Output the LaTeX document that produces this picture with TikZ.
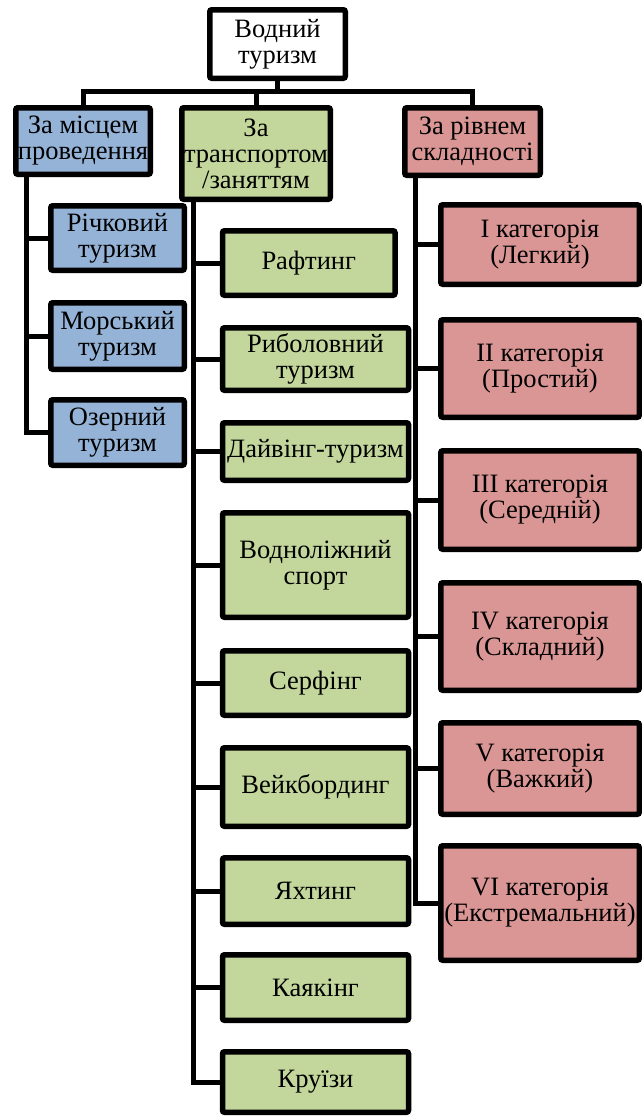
\documentclass[tikz,border=0pt]{standalone}
\usepackage{fontspec}
\setmainfont{Liberation Serif}
\newfontfamily\boxfont{Liberation Serif}
\definecolor{placeblue}{RGB}{149,179,215}
\definecolor{transgreen}{RGB}{195,214,155}
\definecolor{levelred}{RGB}{217,150,148}
\tikzset{
  box/.style={draw, line width=5.5pt, rounded corners=2pt, align=center, inner sep=0pt,
    font=\boxfont\fontsize{26.5}{26}\selectfont},
  placebox/.style={box, fill=placeblue, minimum width=133.5pt},
  transbox/.style={box, fill=transgreen, anchor=west, minimum width=186pt},
  levelbox/.style={box, fill=levelred, minimum width=198.5pt},
  link/.style={draw, line width=5pt}
}
\usetikzlibrary{calc}

\begin{document}
\begin{tikzpicture}[x=1pt,y=-1pt]
  \useasboundingbox (0,0) rectangle (642,1117);

  % top levels
  \node [box, minimum width=135.5pt, minimum height=68.5pt] (root) at (277.5,44) {Водний\\туризм};
  \node [box, fill=placeblue, minimum width=134.5pt, minimum height=66.5pt] (place) at (83,141) {За місцем\\проведення};
  \node [box, fill=transgreen, minimum width=148.5pt, minimum height=91.5pt] (transp) at (256,153.5) {За\\транспортом\\/заняттям};
  \node [box, fill=levelred, minimum width=135.5pt, minimum height=67.5pt] (level) at (472.5,141.5) {За рівнем\\складності};

  % by place
  \node [placebox, minimum height=64.5pt] (p1) at (117.5,238) {Річковий\\туризм};
  \node [placebox, minimum height=66.5pt] (p2) at (117.5,336) {Морський\\туризм};
  \node [placebox, minimum height=65.5pt] (p3) at (117.5,432.5) {Озерний\\туризм};

  % by transport
  \node [transbox, minimum width=172.5pt, minimum height=64.5pt] (t1) at (219.75,263) {Рафтинг};
  \node [transbox, minimum height=62.5pt] (t2) at (219.75,359) {Риболовний\\туризм};
  \node [transbox, minimum height=57.5pt] (t3) at (219.75,451.5) {Дайвінг-туризм};
  \node [transbox, minimum height=104.5pt] (t4) at (219.75,565) {Водноліжний\\спорт};
  \node [transbox, minimum height=64.5pt] (t5) at (219.75,683) {Серфінг};
  \node [transbox, minimum height=78.5pt] (t6) at (219.75,787) {Вейкбординг};
  \node [transbox, minimum height=66.5pt] (t7) at (219.75,891) {Яхтинг};
  \node [transbox, minimum height=65.5pt] (t8) at (219.75,987.5) {Каякінг};
  \node [transbox, minimum height=60.5pt] (t9) at (219.75,1082) {Круїзи};

  % by difficulty
  \node [levelbox, minimum height=79.5pt] (l1) at (540,244.5) {I категорія\\(Легкий)};
  \node [levelbox, minimum height=97.5pt] (l2) at (540,368.5) {II категорія\\(Простий)};
  \node [levelbox, minimum height=98.5pt] (l3) at (540,500) {III категорія\\(Середній)};
  \node [levelbox, minimum height=107.5pt] (l4) at (540,636.5) {IV категорія\\(Складний)};
  \node [levelbox, minimum height=91.5pt] (l5) at (540,768.5) {V категорія\\(Важкий)};
  \node [levelbox, minimum height=114.5pt] (l6) at (540,903) {VI категорія\\(Екстремальний)};

  % bus under the root
  \coordinate (bus) at (0,91);
  \draw [link] (root.south) -- (root.south |- bus);
  \draw [link] (place.north) |- (level.north |- bus) -- (level.north);
  \draw [link] (transp.north) -- (transp.north |- bus);

  % side bars
  \coordinate (pbar) at ([xshift=13pt]place.south west);
  \coordinate (tbar) at ([xshift=14.5pt]transp.south west);
  \coordinate (lbar) at ([xshift=13pt]level.south west);
  \draw [link] (pbar) |- (p3.west);
  \foreach \n in {p1,p2} \draw [link] (pbar |- \n.west) -- (\n.west);
  \draw [link] (tbar) |- (t9.west);
  \foreach \n in {t1,t2,t3,t4,t5,t6,t7,t8} \draw [link] (tbar |- \n.west) -- (\n.west);
  \draw [link] (lbar) |- (l6.west);
  \foreach \n in {l1,l2,l3,l4,l5} \draw [link] (lbar |- \n.west) -- (\n.west);
\end{tikzpicture}
\end{document}
